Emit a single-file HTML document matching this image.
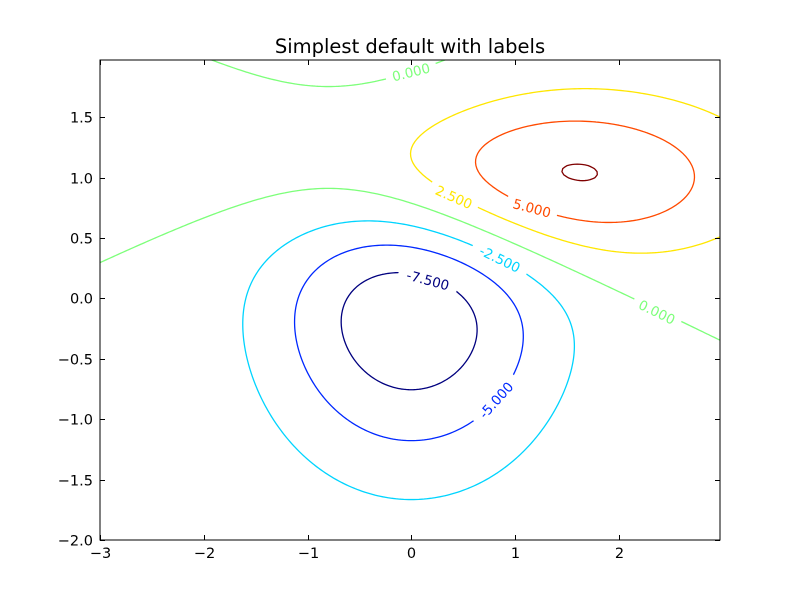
<!DOCTYPE html>
<html><head><meta charset="utf-8"><style>
body{margin:0;background:#fff}
svg text{font-family:"DejaVu Sans","Liberation Sans",sans-serif}
</style></head><body>
<svg id="chart" width="800" height="600" viewBox="0 0 800 600" xmlns="http://www.w3.org/2000/svg">
<rect width="800" height="600" fill="#fff"/>
<text x="410" y="53" font-size="19.5" text-anchor="middle">Simplest default with labels</text>
<defs><clipPath id="clip"><rect x="100" y="60" width="620" height="480"/></clipPath></defs>
<g id="contours" clip-path="url(#clip)"></g>
<g id="labels"></g>
<g id="axes"></g>
<rect x="100" y="60" width="620" height="480" fill="none" stroke="#000" stroke-width="1"/>
</svg>
<script>
const levels=[-7.5,-5,-2.5,0,2.5,5,7.5];
const levelColors=["#00007f","#0028ff","#00d4ff","#7dff7a","#ffe600","#ff4a00","#7f0000"];
const gaussNeg=[1.0,1.0,0.0,0.0,10];   // sx, sy, mux, muy, amplitude
const gaussPos=[1.5,0.5,1.0,1.0,10];
const xTicks=[-3,-2,-1,0,1,2];
const yTicks=[-2,-1.5,-1,-0.5,0,0.5,1,1.5];
const labelText=["0.000","2.500","5.000","-2.500","0.000","-7.500","-5.000"];
const labelLevel=[3,4,5,2,3,0,1];
const labelAt=[[411,72,-14],[454,197,24],[532,208,15],[500,259,26],[657,312,26],[428,280,15],[496,400,-48]];

const NS="http://www.w3.org/2000/svg";
const X0=-3,X1=2.975,Y0=-2,Y1=1.975,dx=0.025;
const sx=x=>100+(x-X0)*620/(X1-X0);
const sy=y=>540-(y-Y0)*480/(Y1-Y0);
function g(p,x,y){const a=(x-p[2])/p[0],b=(y-p[3])/p[1];return p[4]*Math.exp(-(a*a+b*b)/2);}
const f=(x,y)=>g(gaussPos,x,y)-g(gaussNeg,x,y);
const nx=Math.round((X1-X0)/dx)+1, ny=Math.round((Y1-Y0)/dx)+1;
const Z=[];for(let j=0;j<ny;j++){const r=[];for(let i=0;i<nx;i++)r.push(f(X0+i*dx,Y0+j*dx));Z.push(r);}
const cg=document.getElementById('contours');
levels.forEach((L,k)=>{
  let d="";
  for(let j=0;j<ny-1;j++)for(let i=0;i<nx-1;i++){
    const c=[[i,j],[i+1,j],[i+1,j+1],[i,j+1]];
    const pts=[];
    for(let e=0;e<4;e++){
      const a=c[e],b=c[(e+1)%4];
      const va=Z[a[1]][a[0]],vb=Z[b[1]][b[0]];
      if((va<L)!==(vb<L)){const t=(L-va)/(vb-va);
        const gx=a[0]+(b[0]-a[0])*t,gy=a[1]+(b[1]-a[1])*t;
        pts.push([sx(X0+gx*dx),sy(Y0+gy*dx)]);}
    }
    for(let p=0;p+1<pts.length;p+=2)
      d+="M"+pts[p][0].toFixed(2)+" "+pts[p][1].toFixed(2)+"L"+pts[p+1][0].toFixed(2)+" "+pts[p+1][1].toFixed(2);
  }
  const path=document.createElementNS(NS,'path');
  
  
  path.setAttribute('d',d);path.setAttribute('fill','none');
  path.setAttribute('stroke',levelColors[k]);path.setAttribute('stroke-width','1.3');
  path.setAttribute('stroke-linecap','round');
  cg.appendChild(path);
});
const lg=document.getElementById('labels');
labelText.forEach((t,i)=>{
  const [x,y,r]=labelAt[i];
  const grp=document.createElementNS(NS,'g');
  
  
  grp.setAttribute('transform',`translate(${x},${y}) rotate(${r})`);
  const rc=document.createElementNS(NS,'rect');
  const w=t.length*8.8+8;
  rc.setAttribute('x',-w/2);rc.setAttribute('y',-8);rc.setAttribute('width',w);rc.setAttribute('height',16);rc.setAttribute('fill','#fff');
  grp.appendChild(rc);
  const tx=document.createElementNS(NS,'text');
  tx.setAttribute('text-anchor','middle');tx.setAttribute('y','5');tx.setAttribute('font-size','13.5');
  tx.setAttribute('fill',levelColors[labelLevel[i]]);tx.textContent=t;
  grp.appendChild(tx);lg.appendChild(grp);
});
const ag=document.getElementById('axes');
function line(x1,y1,x2,y2,name){const l=document.createElementNS(NS,'line');
  
  
  l.setAttribute('x1',x1);l.setAttribute('y1',y1);l.setAttribute('x2',x2);l.setAttribute('y2',y2);l.setAttribute('stroke','#000');ag.appendChild(l);}
function txt(x,y,s,anchor,name){const t=document.createElementNS(NS,'text');
  
  
  t.setAttribute('x',x);t.setAttribute('y',y);t.setAttribute('font-size','14.5');t.setAttribute('text-anchor',anchor);t.textContent=s;ag.appendChild(t);}
const fmt=(v,dec)=>(v<0?"\u2212":"")+Math.abs(v).toFixed(dec);
xTicks.forEach(v=>{const x=Math.round(sx(v))+0.5;line(x,540,x,535,'x-tick');line(x,60,x,65,'x-tick');txt(x,558,fmt(v,0),'middle','x-tick-label');});
yTicks.forEach(v=>{const y=Math.round(sy(v))+0.5;line(100,y,105,y,'y-tick');line(720,y,715,y,'y-tick');txt(93,y+5,fmt(v,1),'end','y-tick-label');});
</script>
</body></html>
